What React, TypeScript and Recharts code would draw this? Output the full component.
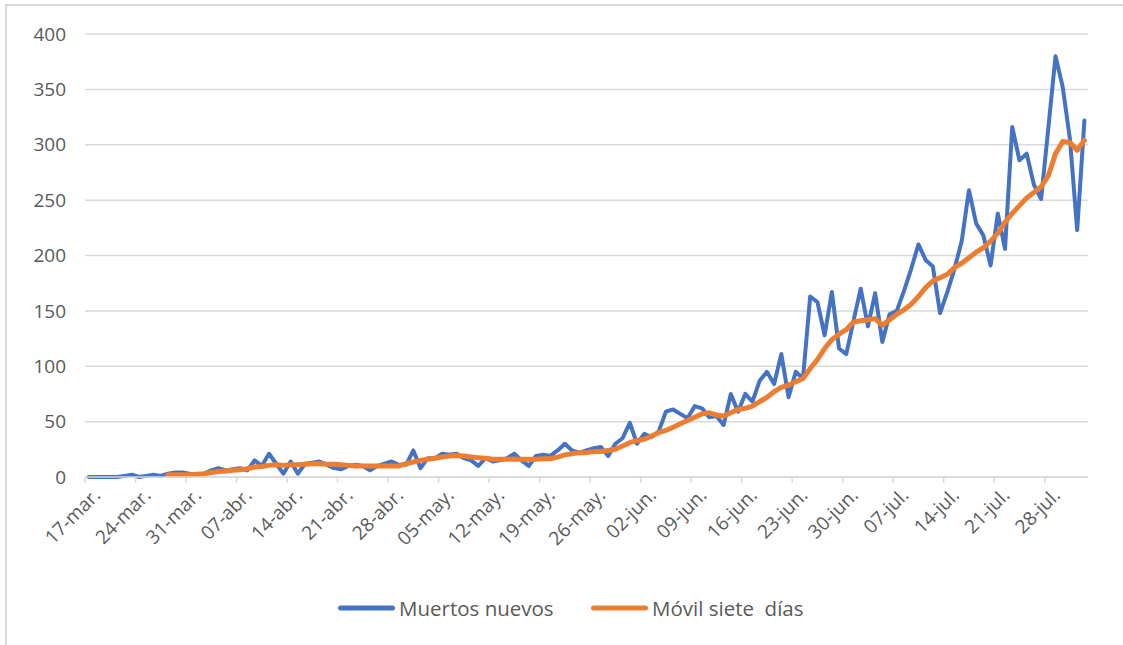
import React from 'react';
import { LineChart, Line, XAxis, YAxis, CartesianGrid, Legend } from 'recharts';

const tickLabels = [
  '17-mar.', '24-mar.', '31-mar.', '07-abr.', '14-abr.', '21-abr.', '28-abr.',
  '05-may.', '12-may.', '19-may.', '26-may.', '02-jun.', '09-jun.', '16-jun.',
  '23-jun.', '30-jun.', '07-jul.', '14-jul.', '21-jul.', '28-jul.',
];

const yTicks = [0, 50, 100, 150, 200, 250, 300, 350, 400];

// Muertos nuevos, daily from 17-mar to 02-ago
const muertos = [
  0, 0, 0, 0, 0, 1, 2, 0, 1, 2,
  1, 3, 4, 4, 3, 2, 3, 6, 8, 6,
  7, 8, 6, 15, 10, 21, 12, 3, 14, 3,
  12, 13, 14, 11, 8, 7, 10, 11, 10, 6,
  10, 12, 14, 11, 11, 24, 8, 17, 17, 21,
  20, 21, 17, 15, 10, 17, 14, 15, 17, 21,
  15, 10, 19, 20, 19, 24, 30, 24, 22, 24,
  26, 27, 19, 30, 35, 49, 30, 39, 36, 41,
  59, 61, 57, 53, 64, 62, 54, 55, 47, 75,
  59, 75, 68, 87, 95, 84, 111, 72, 95, 89,
  163, 158, 128, 167, 116, 111, 141, 170, 136, 166,
  122, 147, 150, 168, 188, 210, 196, 190, 148, 167,
  188, 213, 259, 229, 218, 191, 238, 206, 316, 286,
  292, 264, 251, 315, 380, 352, 305, 223, 322,
];

// Móvil siete días
const movil: (number | null)[] = [
  null, null, null, null, null, null, null, null, null, null,
  null, 2, 2, 2, 2, 2.5, 3, 4, 5, 5.5,
  6, 6.5, 7.5, 9, 9.5, 10.5, 11, 10.5, 11, 11,
  11.5, 12, 12, 11.5, 11.5, 11, 10.5, 10, 10, 10,
  10, 10, 10, 10, 12, 13.5, 15, 16, 17, 18,
  19, 19.5, 19, 18, 17.5, 17, 16, 16, 16, 16,
  16, 16, 16, 16.5, 16.5, 18, 20, 21, 22, 22,
  23, 23, 24, 25, 28, 31, 33, 34, 37, 40,
  42, 45, 48, 51, 54, 57, 58, 56, 55, 58,
  61, 62, 64, 68, 72, 77, 81, 83, 86, 89,
  98, 106, 116, 124, 129, 133, 140, 141, 142, 143,
  137, 142, 147, 151, 156, 163, 171, 177, 180, 183,
  189, 193, 198, 203, 207, 213, 220, 230, 238, 245,
  252, 257, 262, 272, 292, 303, 302, 295, 304,
];

const data = muertos.map((v, i) => ({ day: i, muertos: v, movil: movil[i] }));
const xTicks = tickLabels.map((_, k) => k * 7 - 0.5);

const FONT = '"Open Sans", sans-serif';
const GRAY = '#595959';
const BLUE = '#4472C4';
const ORANGE = '#ED7D31';

function XTick(props: any) {
  const { x, y, payload } = props;
  const k = Math.round((payload.value + 0.5) / 7);
  return (
    <g transform={`translate(${x + 7},${y + 2})`}>
      <text
        textAnchor="end"
        transform="rotate(-45)"
        fontSize={19}
        fontFamily={FONT}
        fill={GRAY}
        dy="0.71em"
      >
        {tickLabels[k]}
      </text>
    </g>
  );
}

function LegendContent(props: any) {
  const payload = props.payload || [];
  return (
    <div style={{ display: 'flex', alignItems: 'center', fontFamily: FONT, fontSize: 20.5, color: GRAY }}>
      {payload.map((p: any, i: number) => (
        <div key={i} style={{ display: 'flex', alignItems: 'center', width: i === 0 ? 253 : 'auto' }}>
          <svg width={57} height={8}>
            <line x1={2.5} y1={4} x2={54.5} y2={4} stroke={p.color} strokeWidth={5} strokeLinecap="round" />
          </svg>
          <span style={{ marginLeft: 4, whiteSpace: 'pre' }}>{p.value}</span>
        </div>
      ))}
    </div>
  );
}

export default function App() {
  return (
    <div style={{ position: 'absolute', left: 0, top: 0, width: 1123, height: 645, background: '#fff' }}>
      <div
        style={{
          position: 'absolute', left: 5, top: 4, width: 1118, height: 641,
          borderTop: '2px solid #d9d9d9', borderLeft: '2px solid #d9d9d9', boxSizing: 'border-box',
        }}
      />
      <div style={{ position: 'absolute', left: 0, top: 0 }}>
        <LineChart
          width={1123}
          height={645}
          data={data}
          margin={{ top: 34, right: 35, left: 25, bottom: 108 }}
        >
          <CartesianGrid vertical={false} stroke="#d9d9d9" strokeWidth={1.5} />
          <XAxis
            dataKey="day"
            type="number"
            domain={[-0.5, 138.5]}
            ticks={xTicks}
            interval={0}
            allowDataOverflow
            height={60}
            stroke="#d9d9d9"
            tickLine={{ stroke: '#d9d9d9', strokeWidth: 1.5 }}
            axisLine={{ stroke: '#d9d9d9', strokeWidth: 1.5 }}
            tickSize={6}
            tick={<XTick />}
          />
          <YAxis
            type="number"
            domain={[0, 400]}
            ticks={yTicks}
            interval={0}
            width={60}
            axisLine={false}
            tickLine={false}
            tickSize={0}
            tickMargin={19}
            tick={{ fontSize: 19, fontFamily: FONT, fill: GRAY }}
          />
          <Line
            type="linear"
            dataKey="muertos"
            name="Muertos nuevos"
            stroke={BLUE}
            strokeWidth={4}
            dot={false}
            strokeLinejoin="round"
            strokeLinecap="round"
            isAnimationActive={false}
          />
          <Line
            type="linear"
            dataKey="movil"
            name="Móvil siete  días"
            stroke={ORANGE}
            strokeWidth={5}
            dot={false}
            strokeLinejoin="round"
            strokeLinecap="round"
            isAnimationActive={false}
          />
          <Legend
            verticalAlign="middle"
            align="center"
            layout="horizontal"
            content={<LegendContent />}
            wrapperStyle={{ left: 338, top: 594 }}
          />
        </LineChart>
      </div>
    </div>
  );
}
